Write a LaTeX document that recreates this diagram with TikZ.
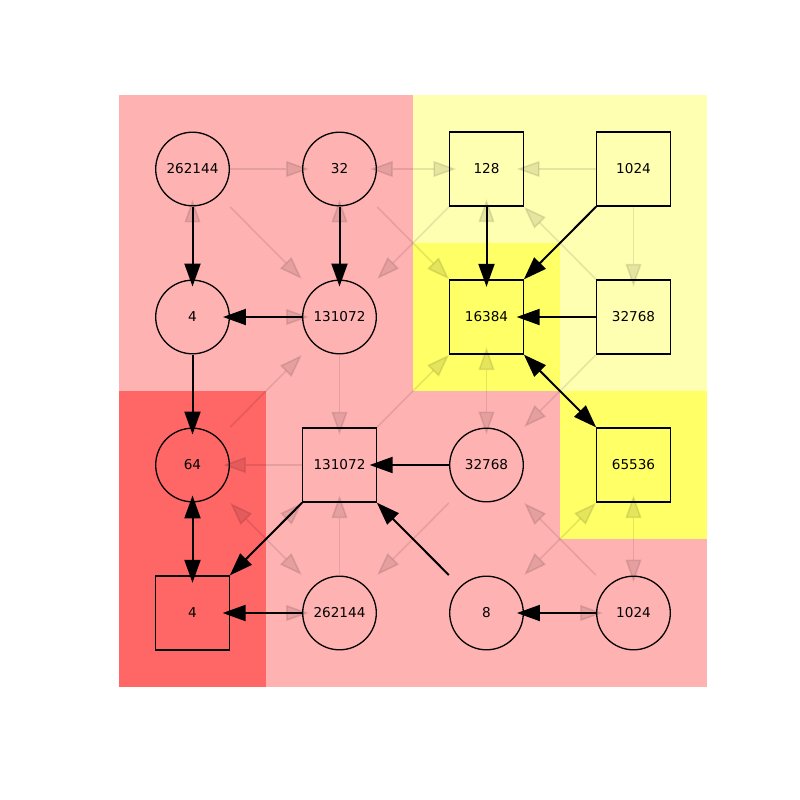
\documentclass[tikz,border=0pt]{standalone}
\usepackage{fontspec}
\setmainfont{DejaVu Sans}
\usetikzlibrary{arrows.meta}
\definecolor{lred}{RGB}{255,178,178}
\definecolor{dred}{RGB}{255,102,102}
\definecolor{lyel}{RGB}{255,255,178}
\definecolor{dyel}{RGB}{255,255,102}
\tikzset{
  nd/.style={rectangle, inner sep=0pt, font=\fontsize{13.6pt}{16pt}\selectfont},
  sqbox/.style={nd, draw, line width=1.3pt, minimum size=74pt},
  ci/.style={nd, minimum size=75.5pt, path picture={\draw[line width=1.3pt] (path picture bounding box.center) circle (36.8pt);}},
  tip/.style={-{Triangle[length=23pt,width=16pt]}},
  tips/.style={{Triangle[length=23pt,width=16pt]}-{Triangle[length=23pt,width=16pt]}},
  bk/.style={line width=2pt, black},
  fa/.style={line width=1.6pt, black, opacity=0.1},
  ortho/.style={shorten >=-7.5pt},
  orthob/.style={shorten >=-7.5pt, shorten <=-7.5pt},
}
\begin{document}
\begin{tikzpicture}[x=1pt, y=-1pt]
\useasboundingbox (0,0) rectangle (800,800);
% coloured regions
\fill[lred] (119,95) rectangle (413,391);
\fill[lred] (266,391) rectangle (560,687);
\fill[lred] (560,539) rectangle (707,687);
\fill[dred] (119,391) rectangle (266,687);
\fill[lyel] (413,95) rectangle (707,243);
\fill[lyel] (560,243) rectangle (707,391);
\fill[dyel] (413,243) rectangle (560,391);
\fill[dyel] (560,391) rectangle (707,539);
% nodes
\node[ci]    (a1) at (192.5,169) {262144};
\node[ci]    (a2) at (339.5,169) {32};
\node[sqbox] (a3) at (486.5,169) {128};
\node[sqbox] (a4) at (633.5,169) {1024};
\node[ci]    (b1) at (192.5,317) {4};
\node[ci]    (b2) at (339.5,317) {131072};
\node[sqbox] (b3) at (486.5,317) {16384};
\node[sqbox] (b4) at (633.5,317) {32768};
\node[ci]    (c1) at (192.5,465) {64};
\node[sqbox] (c2) at (339.5,465) {131072};
\node[ci]    (c3) at (486.5,465) {32768};
\node[sqbox] (c4) at (633.5,465) {65536};
\node[sqbox] (d1) at (192.5,613) {4};
\node[ci]    (d2) at (339.5,613) {262144};
\node[ci]    (d3) at (486.5,613) {8};
\node[ci]    (d4) at (633.5,613) {1024};
% faint edges
\draw[fa, tip, ortho] (a1) -- (a2);
\draw[fa, tips, orthob] (a2) -- (a3);
\draw[fa, tip, ortho] (a4) -- (a3);
\draw[fa, tip, ortho] (b1) -- (a1);
\draw[fa, tip, ortho] (b2) -- (a2);
\draw[fa, tip, ortho] (b3) -- (a3);
\draw[fa, tip, ortho] (a4) -- (b4);
\draw[fa, tip] (a1) -- (b2);
\draw[fa, tip] (a3) -- (b2);
\draw[fa, tip] (a2) -- (b3);
\draw[fa, tip] (b4) -- (a3);
\draw[fa, tip, ortho] (b1) -- (b2);
\draw[fa, tip] (c1) -- (b2);
\draw[fa, tip, ortho] (b2) -- (c2);
\draw[fa, tip] (c2) -- (b3);
\draw[fa, tips, orthob] (b3) -- (c3);
\draw[fa, tip] (b4) -- (c3);
\draw[fa, tip, ortho] (c2) -- (c1);
\draw[fa, tips] (c1) -- (d2);
\draw[fa, tip] (d1) -- (c2);
\draw[fa, tip, ortho] (d2) -- (c2);
\draw[fa, tip, ortho] (d1) -- (d2);
\draw[fa, tip] (c3) -- (d2);
\draw[fa, tip] (d4) -- (c3);
\draw[fa, tips] (c4) -- (d3);
\draw[fa, tips, orthob] (c4) -- (d4);
\draw[fa, tip, ortho] (d3) -- (d4);
% solid edges
\draw[bk, tip, ortho] (a1) -- (b1);
\draw[bk, tip, ortho] (a2) -- (b2);
\draw[bk, tip, ortho] (b2) -- (b1);
\draw[bk, tip, ortho] (b1) -- (c1);
\draw[bk, tip, ortho] (a3) -- (b3);
\draw[bk, tip] (a4) -- (b3);
\draw[bk, tip, ortho] (b4) -- (b3);
\draw[bk, tips] (b3) -- (c4);
\draw[bk, tip, ortho] (c3) -- (c2);
\draw[bk, tips, orthob] (c1) -- (d1);
\draw[bk, tip] (c2) -- (d1);
\draw[bk, tip] (d3) -- (c2);
\draw[bk, tip, ortho] (d2) -- (d1);
\draw[bk, tip, ortho] (d4) -- (d3);
\end{tikzpicture}
\end{document}
